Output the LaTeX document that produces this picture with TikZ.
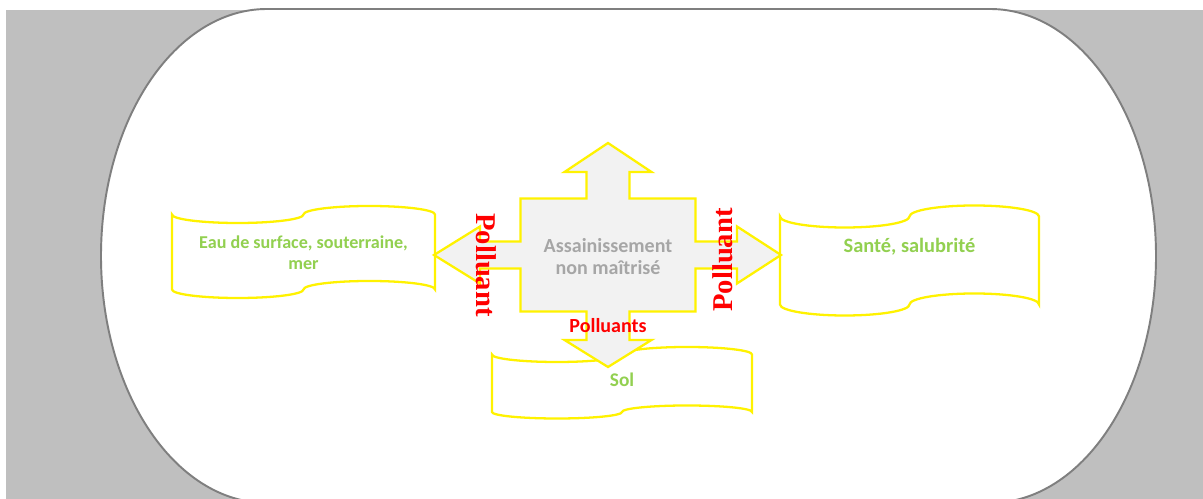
\documentclass[tikz,border=0pt]{standalone}
\usepackage{fontspec}
\setmainfont{Carlito}
\newfontfamily\serifpol{Liberation Serif}
\definecolor{verde}{HTML}{92D050}
\definecolor{gristexto}{HTML}{A6A6A6}
\definecolor{fondo}{HTML}{BFBFBF}
\definecolor{borde}{HTML}{7F7F7F}
\definecolor{relleno}{HTML}{F2F2F2}
\tikzset{
  cinta/.style={draw=yellow, line width=1.3pt, fill=white},
  etiqueta/.style={font=\fontsize{11}{12.2}\selectfont\bfseries, text=verde, align=center},
  polluant/.style={font=\serifpol\bfseries\fontsize{16.3}{18}\selectfont, text=red, inner sep=0pt},
}
\begin{document}
\begin{tikzpicture}[x=0.02cm,y=0.02cm]
    \useasboundingbox (0,0) rectangle (1203,499);
    \fill[fondo] (6,0) rectangle (1203,489);

    % Forma redondeada
    \draw[borde, line width=1.1pt, fill=white] (267,490) -- (990,490)
        arc[start angle=90, end angle=-90, x radius=166, y radius=247] -- (267,-4)
        arc[start angle=270, end angle=90, x radius=166, y radius=247] -- cycle;

    % Cintas
    \draw[cinta] (172,284.5) arc[start angle=180, end angle=360, x radius=65.75, y radius=8.5] arc[start angle=180, end angle=0, x radius=65.75, y radius=8.5] -- (435,209.5) arc[start angle=0, end angle=180, x radius=65.75, y radius=8.5] arc[start angle=0, end angle=-180, x radius=65.75, y radius=8.5] -- cycle;
    \draw[cinta] (780,282.5) arc[start angle=180, end angle=360, x radius=64.75, y radius=11] arc[start angle=180, end angle=0, x radius=64.75, y radius=11] -- (1039,194.5) arc[start angle=0, end angle=180, x radius=64.75, y radius=11] arc[start angle=0, end angle=-180, x radius=64.75, y radius=11] -- cycle;
    \draw[cinta] (492,144.5) arc[start angle=180, end angle=360, x radius=65, y radius=7.5] arc[start angle=180, end angle=0, x radius=65, y radius=7.5] -- (752,87) arc[start angle=0, end angle=180, x radius=65, y radius=6.5] arc[start angle=0, end angle=-180, x radius=65, y radius=6.5] -- cycle;

    % Flecha de cuatro puntas
    \draw[yellow, line width=1.3pt, fill=relleno] (608,356) -- (651.5,327) -- (629.5,327) -- (629.5,300.5) -- (695.5,300.5) -- (695.5,257.5) -- (737,257.5) -- (737,272.5) -- (781,244) -- (737,215.5) -- (737,230.5) -- (695.5,230.5) -- (695.5,187.5) -- (629.5,187.5) -- (629.5,159) -- (651.5,159) -- (608,132) -- (564.5,159) -- (586.5,159) -- (586.5,187.5) -- (520.5,187.5) -- (520.5,230.5) -- (480,230.5) -- (480,215.5) -- (434,244) -- (480,272.5) -- (480,257.5) -- (520.5,257.5) -- (520.5,300.5) -- (586.5,300.5) -- (586.5,327) -- (564.5,327) -- cycle;

    % Textos
    \node[font=\fontsize{11.4}{13}\selectfont\bfseries, text=gristexto, align=center] (centro) at (608,242.5) {Assainissement\\non maîtrisé};
    \node[font=\fontsize{11.4}{13}\selectfont\bfseries, text=red] (polluants) at (608,173) {Polluants};
    \node[polluant, rotate=-90] (polluantG) at (486,234) {Polluant};
    \node[polluant, rotate=90] (polluantD) at (723,239) {Polluant};
    \node[etiqueta, font=\fontsize{10.3}{12}\selectfont\bfseries] (eau) at (303.5,246.5) {Eau de surface, souterraine,\\mer};
    \node[etiqueta, font=\fontsize{11.6}{13}\selectfont\bfseries] (sante) at (909.5,252) {Santé, salubrité};
    \node[etiqueta] (sol) at (622,119) {Sol};
\end{tikzpicture}
\end{document}
